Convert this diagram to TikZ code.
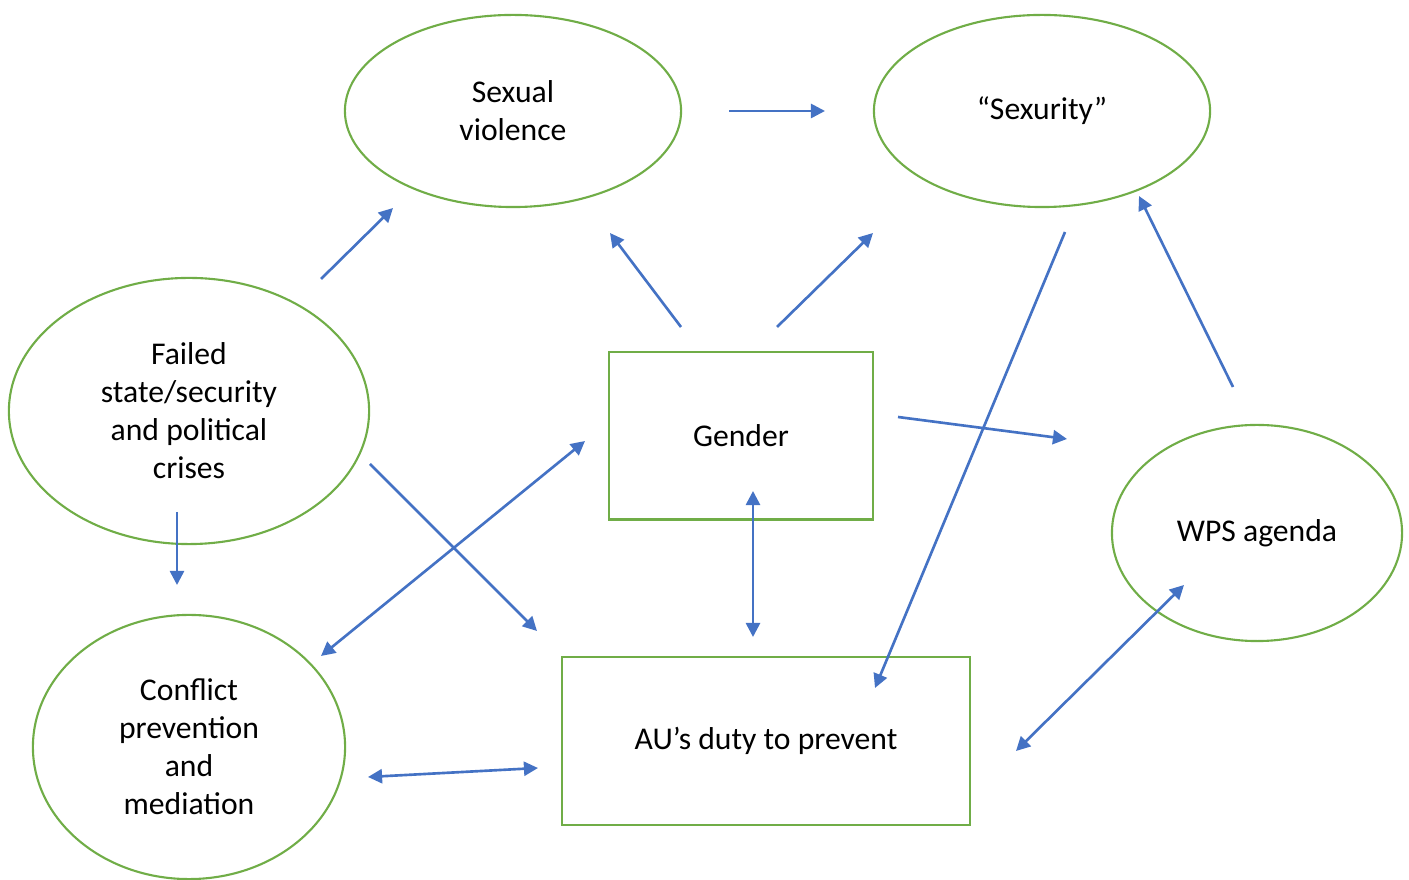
\documentclass[tikz,border=0pt]{standalone}
\usepackage{fontspec}
\setmainfont{Carlito}
\usepackage{xcolor}
\definecolor{wpsGreen}{HTML}{70AD47}
\definecolor{wpsBlue}{HTML}{4472C4}
\usetikzlibrary{shapes.geometric,arrows.meta}

\begin{document}
\begin{tikzpicture}[
            x=0.01cm, y=-0.01cm,
            oval/.style={
                draw=wpsGreen,
                ellipse,
                line width=0.6pt,
                inner sep=0pt,
                align=center,
                font=\fontsize{9pt}{10.8pt}\selectfont
            },
            box/.style={
                draw=wpsGreen,
                rectangle,
                line width=0.6pt,
                inner sep=0pt,
                align=center,
                font=\fontsize{9pt}{10.8pt}\selectfont
            },
            arrow/.style={
                -{Triangle[length=4pt,width=4pt]},
                line width=0.75pt,
                color=wpsBlue
            },
            twoway/.style={
                arrow,
                {Triangle[length=4pt,width=4pt]}-{Triangle[length=4pt,width=4pt]}
            }
        ]
            \useasboundingbox (0,0) rectangle (1409,880);

            % ovals
            \node (violence) [oval, minimum width=3.36cm, minimum height=1.92cm] at (513,111) {Sexual\\violence};
            \node (sexurity) [oval, minimum width=3.36cm, minimum height=1.92cm] at (1042,111) {“Sexurity”};
            \node (failed) [oval, minimum width=3.6cm, minimum height=2.66cm] at (189,411) {Failed\\state/security\\and political\\crises};
            \node (conflict) [oval, minimum width=3.12cm, minimum height=2.64cm] at (189,747) {Conflict\\prevention\\and\\mediation};
            \node (wps) [oval, minimum width=2.9cm, minimum height=2.16cm] at (1257,533) {WPS agenda};

            % boxes
            \node (gender) [box, minimum width=2.64cm, minimum height=1.67cm] at (741,436) {Gender};
            \node (duty) [box, minimum width=4.08cm, minimum height=1.68cm] at (766,741) {AU’s duty to prevent};

            % arrow ends
            \coordinate (violenceE) at (729,111);
            \coordinate (sexurityW) at (825,111);
            \coordinate (failedNE) at (321,279);
            \coordinate (violenceSW) at (393,208);
            \coordinate (genderNW) at (681,327);
            \coordinate (violenceSE) at (610,233);
            \coordinate (genderNE) at (777,327);
            \coordinate (sexuritySW) at (873,233);
            \coordinate (sexurityS) at (1065,232);
            \coordinate (dutyNE) at (875,688);
            \coordinate (wpsN) at (1233,387);
            \coordinate (sexuritySE) at (1139,196);
            \coordinate (genderE) at (898,417);
            \coordinate (wpsW) at (1067,439);
            \coordinate (failedSE) at (370,464);
            \coordinate (dutyNW) at (537,631);
            \coordinate (failedS) at (177,512);
            \coordinate (conflictN) at (177,585);
            \coordinate (genderW) at (585,441);
            \coordinate (conflictNE) at (321,656);
            \coordinate (genderS) at (753,491);
            \coordinate (dutyN) at (753,637);
            \coordinate (conflictE) at (368,777);
            \coordinate (dutyW) at (538,768);
            \coordinate (wpsSW) at (1184,585);
            \coordinate (dutyE) at (1016,751);

            % connectors
            \draw[arrow] (violenceE) -- (sexurityW);
            \draw[arrow] (failedNE) -- (violenceSW);
            \draw[arrow] (genderNW) -- (violenceSE);
            \draw[arrow] (genderNE) -- (sexuritySW);
            \draw[arrow] (sexurityS) -- (dutyNE);
            \draw[arrow] (wpsN) -- (sexuritySE);
            \draw[arrow] (genderE) -- (wpsW);
            \draw[arrow] (failedSE) -- (dutyNW);
            \draw[arrow] (failedS) -- (conflictN);
            \draw[twoway] (genderW) -- (conflictNE);
            \draw[twoway] (genderS) -- (dutyN);
            \draw[twoway] (conflictE) -- (dutyW);
            \draw[twoway] (wpsSW) -- (dutyE);
        \end{tikzpicture}
\end{document}
